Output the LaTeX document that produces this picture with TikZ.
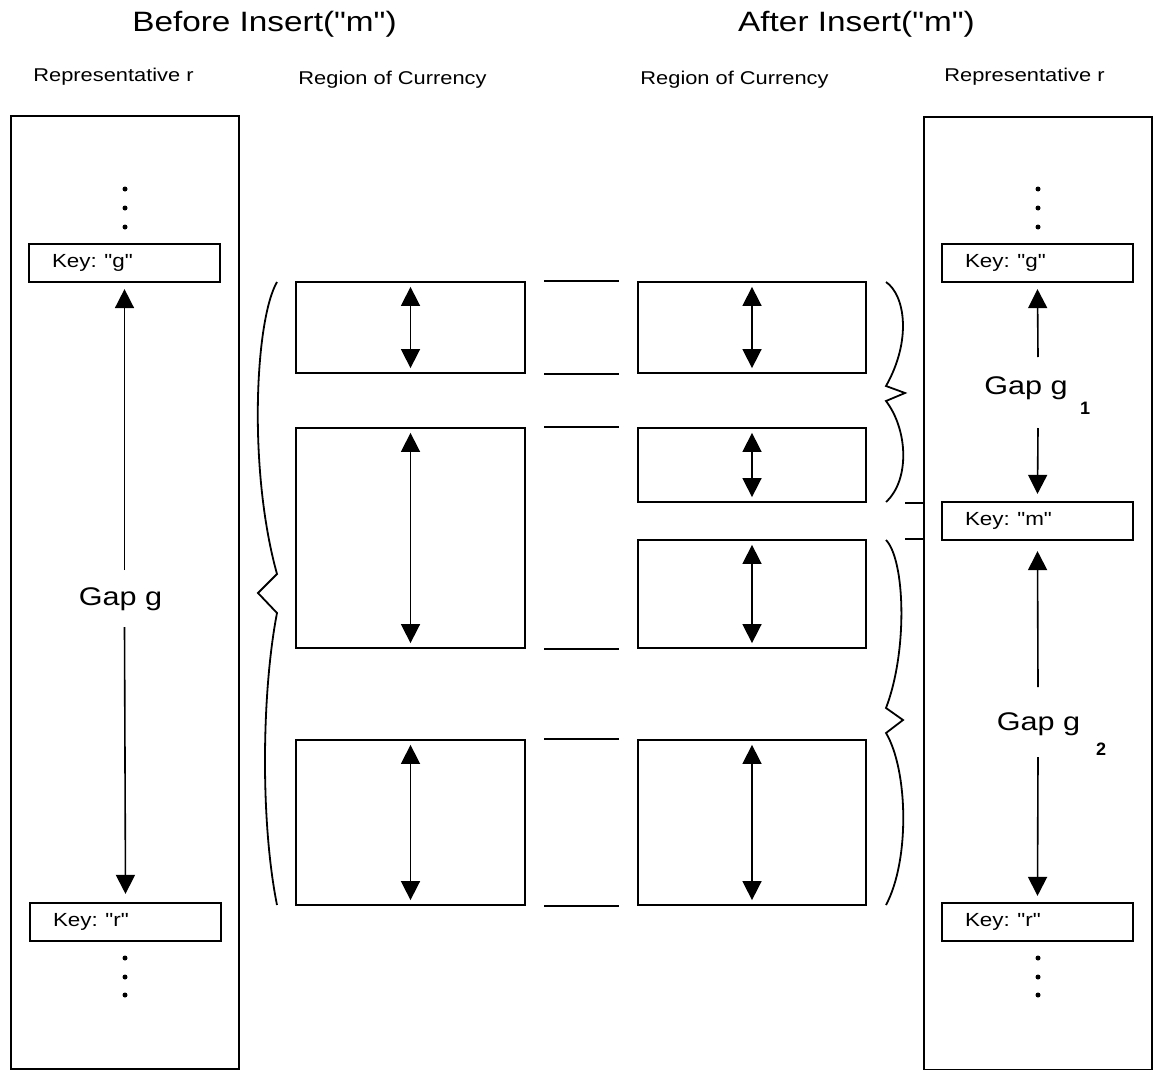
\documentclass[tikz,border=0pt]{standalone}
\usepackage{fontspec}
\setmainfont{Liberation Sans}[Ligatures=TeXOff]
\usepackage{graphicx}
\usetikzlibrary{arrows.meta}
\newcommand{\wx}[2][1.18]{\scalebox{#1}[1]{#2}}
\frenchspacing
\begin{document}
\begin{tikzpicture}[x=1pt,y=-1pt,
  bigbox/.style={draw,line width=2pt,inner sep=0pt,minimum width=228pt,minimum height=953pt},
  keybox/.style={draw,line width=2.2pt,inner xsep=23pt,inner ysep=0pt,text width=145pt,
    minimum height=38pt,align=left,font=\fontsize{19pt}{19pt}\selectfont},
  regbox/.style={draw,line width=2.2pt,inner sep=0pt},
  colA/.style={regbox,minimum width=229pt},
  colB/.style={regbox,minimum width=228pt},
  arr/.style={line width=1.6pt,-{Triangle[width=19pt,length=19pt]}},
  dbl/.style={line width=1.6pt,{Triangle[width=19pt,length=19pt]}-{Triangle[width=19pt,length=19pt]}},
  dashln/.style={line width=2.2pt},
  brace/.style={line width=1.8pt,line join=miter},
  title/.style={font=\fontsize{28pt}{28pt}\selectfont,anchor=base},
  head/.style={font=\fontsize{18.5pt}{18.5pt}\selectfont,anchor=base},
  gap/.style={font=\fontsize{25.5pt}{25.5pt}\selectfont,anchor=base},
  sub/.style={font=\fontsize{18pt}{18pt}\selectfont\bfseries,anchor=base},
  dot/.style={circle,fill,inner sep=0pt,minimum size=5pt}
]
\useasboundingbox (0,0) rectangle (1153,1070);

% titles
\node[title] (t1) at (264.5,32) {\wx[1.19]{Before Insert("m")}};
\node[title] (t2) at (856.5,32) {\wx[1.19]{After Insert("m")}};
\node[head] (h1) at (113.5,82) {\wx{Representative r}};
\node[head] (h2) at (392.5,85) {\wx{Region of Currency}};
\node[head] (h3) at (734.5,85) {\wx{Region of Currency}};
\node[head] (h4) at (1024.5,82) {\wx{Representative r}};

% big boxes
\node[bigbox,anchor=north west] (lbig) at (10,115) {};
\node[bigbox,anchor=north west] (rbig) at (923,116) {};

% key boxes
\node[keybox] (kg) at (124.5,263) {\wx{Key: "g"}};
\node[keybox] (kr) at (125.5,922) {\wx{Key: "r"}};
\node[keybox] (kg2) at (1037.5,263) {\wx{Key: "g"}};
\node[keybox] (km) at (1037.5,521) {\wx{Key: "m"}};
\node[keybox] (kr2) at (1037.5,922) {\wx{Key: "r"}};

% dots
\foreach \y [count=\i] in {189,208,227} {
  \node[dot] (ld\i) at (125,\y) {};
  \node[dot] (rd\i) at (1038,\y) {};
}
\foreach \y [count=\i] in {958,977,995} {
  \node[dot] (lb\i) at (125,\y) {};
  \node[dot] (rb\i) at (1038,\y) {};
}

% left gap arrow
\node[gap] (gg) at (120.5,605) {\wx[1.2]{Gap g}};
\coordinate (lga) at (124.5,570);
\coordinate (lgb) at (124.5,627);
\draw[arr] (lga) -- ([yshift=-6pt]kg.south);
\draw[arr] (lgb) -- ([yshift=8pt]kr.north);

% right gap arrows
\node[gap] (g1) at (1026,394) {\wx[1.2]{Gap g}};
\node[sub] (s1) at (1085,414) {1};
\coordinate (g1a) at (1038,357);
\coordinate (g1b) at (1038,428);
\draw[arr] (g1a) -- ([yshift=-6pt]kg2.south);
\draw[arr] (g1b) -- ([yshift=7pt]km.north);

\node[gap] (g2) at (1038.5,730) {\wx[1.2]{Gap g}};
\node[sub] (s2) at (1101,755) {2};
\coordinate (g2a) at (1038,687);
\coordinate (g2b) at (1038,757);
\draw[arr] (g2a) -- ([yshift=-10pt]km.south);
\draw[arr] (g2b) -- ([yshift=6pt]kr2.north);

% region boxes column A
\node[colA,minimum height=91pt] (a1) at (410.5,327.5) {};
\node[colA,minimum height=220pt] (a2) at (410.5,538) {};
\node[colA,minimum height=165pt] (a3) at (410.5,822.5) {};
% column B
\node[colB,minimum height=91pt] (b1) at (752,327.5) {};
\node[colB,minimum height=74pt] (b2) at (752,465) {};
\node[colB,minimum height=108pt] (b3) at (752,594) {};
\node[colB,minimum height=165pt] (b4) at (752,822.5) {};

% arrows in region boxes
\foreach \b in {a1,a2,a3,b1,b2,b3,b4} {
  \draw[dbl] ([yshift=-6pt]\b.north) -- ([yshift=6pt]\b.south);
}

% connecting dashes between columns
\draw[dashln] ([xshift=18pt]a1.north east) -- ([xshift=-18pt]b1.north west);
\draw[dashln] ([xshift=18pt]a1.south east) -- ([xshift=-18pt]b1.south west);
\draw[dashln] ([xshift=18pt]a2.north east) -- ([xshift=-18pt]b2.north west);
\draw[dashln] ([xshift=18pt]a2.south east) -- ([xshift=-18pt]b3.south west);
\draw[dashln] ([xshift=18pt]a3.north east) -- ([xshift=-18pt]b4.north west);
\draw[dashln] ([xshift=18pt]a3.south east) -- ([xshift=-18pt]b4.south west);

% lines from column B to right representative box
\draw[line width=1.8pt] ([xshift=38pt]b2.south east) -- (rbig.west |- b2.south);
\draw[line width=1.8pt] ([xshift=38pt]b3.north east) -- (rbig.west |- b3.north);

% left brace
\draw[brace] (277,282) .. controls (255,320) and (248,470) .. (277,574)
  -- (258,593) -- (277,613) .. controls (262,690) and (260,820) .. (277,905);
% right braces
\draw[brace] (886,282) .. controls (905,295) and (912,340) .. (886,386)
  -- (905,393) -- (886,401) .. controls (908,430) and (910,480) .. (886,502);
\draw[brace] (886,540) .. controls (905,560) and (908,650) .. (886,708)
  -- (903,720) -- (886,733) .. controls (908,770) and (910,860) .. (886,905);
\end{tikzpicture}
\end{document}
